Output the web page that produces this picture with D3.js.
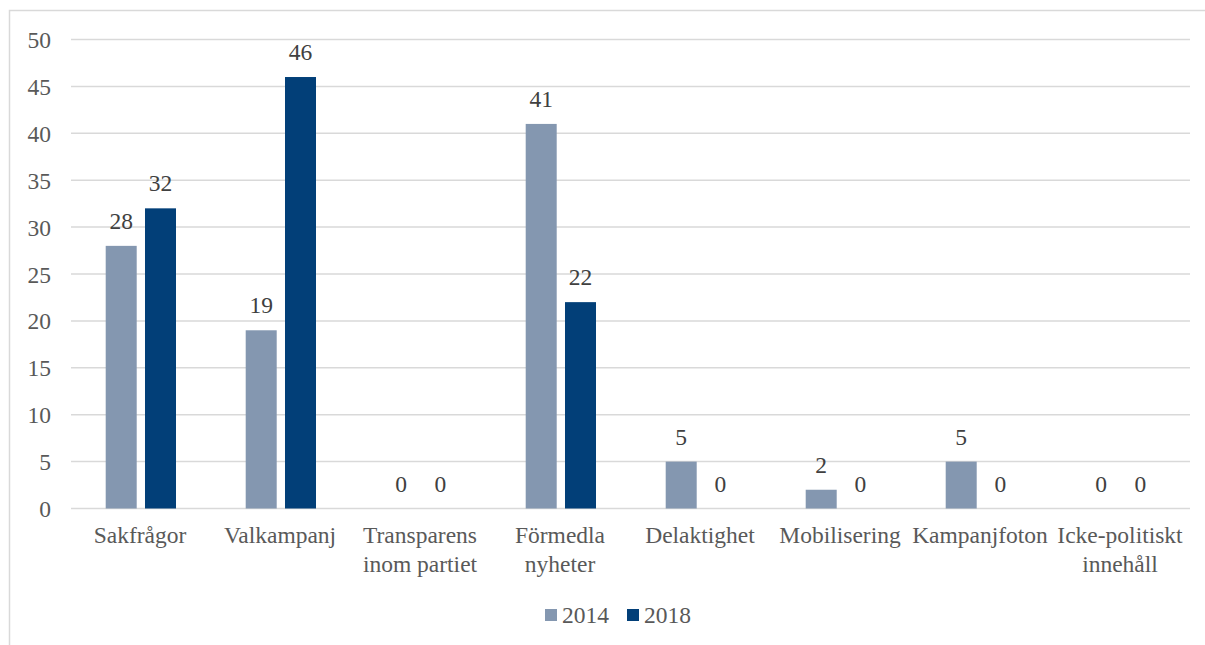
<!DOCTYPE html>
<html><head><meta charset="utf-8">
<script src="https://cdn.jsdelivr.net/npm/d3@7"></script>
<style>body{margin:0;background:#fff;} text{font-family:"Liberation Serif","Times New Roman",serif;}</style>
</head><body><svg id="c" width="1205" height="645"></svg>
<script>
const categories = [["Sakfrågor"],["Valkampanj"],["Transparens","inom partiet"],["Förmedla","nyheter"],["Delaktighet"],["Mobilisering"],["Kampanjfoton"],["Icke-politiskt","innehåll"]];
const series = ["2014","2018"];
const values2014 = [28,19,0,41,5,2,5,0];
const values2018 = [32,46,0,22,0,0,0,0];
const yTicks = [0,5,10,15,20,25,30,35,40,45,50];
const colors = ["#8497b0","#023f78"];
const FS = 23.5;

const svg = d3.select("#c");
svg.append("rect").attr("x",9.5).attr("y",10.5).attr("width",1220).attr("height",660)
  .attr("fill","none").attr("stroke","#d9d9d9").attr("stroke-width",1.5);

const x0 = d3.scaleBand().domain(d3.range(categories.length)).range([70,1190]);
const x1 = d3.scaleBand().domain(series).range([35.7,106]).paddingInner(0.211);
const y = d3.scaleLinear().domain([0,50]).range([508.5,39.5]);

const grid = svg.append("g");
grid.selectAll("line").data(yTicks).join("line")
  .attr("x1",71).attr("x2",1190).attr("y1",d=>y(d)).attr("y2",d=>y(d))
  .attr("stroke","#d9d9d9").attr("stroke-width",1.5);

const yAxis = svg.append("g").attr("transform","translate(51,0)")
  .call(d3.axisLeft(y).tickValues(yTicks).tickSize(0).tickPadding(0));
yAxis.select(".domain").remove();
yAxis.selectAll("text").attr("font-size",FS).attr("fill","#595959").attr("font-family","Liberation Serif").attr("dy","0.34em");

const data = series.map((s,i)=>({s, vals: i===0?values2014:values2018, color: colors[i]}));
data.forEach(d=>{
  const g = svg.append("g");
  g.selectAll("rect").data(d.vals).join("rect")
    .attr("x",(v,i)=>x0(i)+x1(d.s)).attr("width",x1.bandwidth())
    .attr("y",v=>y(v)).attr("height",v=>y(0)-y(v)).attr("fill",d.color);
  g.selectAll("text").data(d.vals).join("text")
    .attr("x",(v,i)=>x0(i)+x1(d.s)+x1.bandwidth()/2).attr("y",v=>y(v)-17)
    .attr("text-anchor","middle").attr("font-size",FS).attr("fill","#404040").text(v=>v);
});

const xl = svg.append("g");
categories.forEach((c,i)=>{
  const t = xl.append("text").attr("x",x0(i)+x0.bandwidth()/2).attr("y",543)
    .attr("text-anchor","middle").attr("font-size",FS).attr("fill","#595959");
  c.forEach((line,j)=>t.append("tspan").attr("x",x0(i)+x0.bandwidth()/2).attr("dy",j?28.5:0).text(line));
});

const lg = svg.append("g");
const lx = [545,627];
series.forEach((s,i)=>{
  lg.append("rect").attr("x",lx[i]).attr("y",609).attr("width",12).attr("height",12).attr("fill",colors[i]);
  lg.append("text").attr("x",lx[i]+17).attr("y",622.5).attr("font-size",FS).attr("fill","#595959").text(s);
});
</script></body></html>
